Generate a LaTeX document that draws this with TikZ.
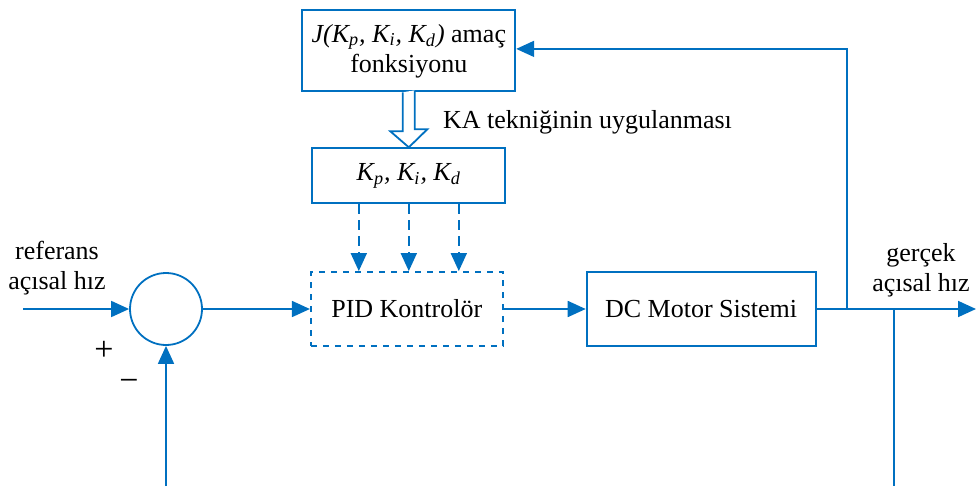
\documentclass[tikz,border=0pt]{standalone}
\usepackage{fontspec}
\setmainfont{Liberation Serif}
\usetikzlibrary{positioning,arrows.meta}
\definecolor{lineblue}{RGB}{0,112,192}
\tikzset{
  block/.style={draw=lineblue, line width=0.9pt, minimum height=37pt, align=center, inner sep=2pt},
  sumnode/.style={circle, draw=lineblue, line width=0.9pt, minimum size=36pt, inner sep=0pt},
  wire/.style={draw=lineblue, line width=0.9pt},
  sig/.style={wire, -{Triangle[length=9pt,width=8pt]}},
  gainsig/.style={sig, dash pattern=on 5pt off 3pt},
  signlbl/.style={font=\fontsize{17}{17}\selectfont}
}
\begin{document}
\begin{tikzpicture}[x=0.5pt,y=-0.5pt,font=\fontsize{13}{15}\selectfont]
  \useasboundingbox (0,0) rectangle (977,486);

  \node   (sum)   [sumnode] at (166,309) {};
  \node   (pid)   [block, dashed, minimum width=96pt, right=53.5pt of sum] {PID Kontrolör};
  \node   (motor) [block, minimum width=114.5pt, right=41pt of pid] {DC Motor Sistemi};
  \node   (gains) [block, minimum width=96.5pt, minimum height=27.5pt, above=33.5pt of pid, xshift=1pt]
          {\textit{K\textsubscript{p}, K\textsubscript{i}, K\textsubscript{d}}};
  \node   (obj)   [block, minimum width=106.5pt, minimum height=40.5pt, above=27.5pt of gains]
          {\textit{J(K\textsubscript{p}, K\textsubscript{i}, K\textsubscript{d})} amaç\\fonksiyonu};

  \coordinate (in)  at (23,309);
  \coordinate (out) at (976,309);
  \coordinate (b1)  at (847,309);
  \coordinate (b2)  at (894,309);
  \coordinate (fb)  at (894,486);
  \coordinate (ret) at (166,486);

  \node   (reflbl) [align=center] at (57,268) {referans\\açısal hız};
  \node   (actlbl) [align=center] at (921,270) {gerçek\\açısal hız};
  \node   (plus)  [signlbl] at (104,351) {+};
  \node   (minus) [signlbl] at (129,385) {−};
  \node   (ka)    [right] at (436,122) {KA tekniğinin uygulanması};

  \path (in)  edge[sig] (sum);
  \path (sum) edge[sig] (pid);
  \path (pid) edge[sig] (motor);
  \draw[sig] (motor.east) -- (out);
  \draw[sig] (b1) |- ([yshift=1pt]obj.east);
  \draw[wire] (b2) -- (fb);
  \draw[sig] (ret) -- (sum);

  \foreach \dx in {-25pt,0pt,25pt}
    \draw[gainsig] ([xshift=\dx]gains.south) -- ([xshift=\dx]gains.south |- pid.north);

  % hollow arrow between the boxes
  \draw[wire, fill=white] (obj.south) ++(-6,0) -- ++(0,39) -- ++(-12.5,0) -- (gains.north)
        -- ++(18.5,-18) -- ++(-12.5,0) -- ++(0,-39);
\end{tikzpicture}
\end{document}
